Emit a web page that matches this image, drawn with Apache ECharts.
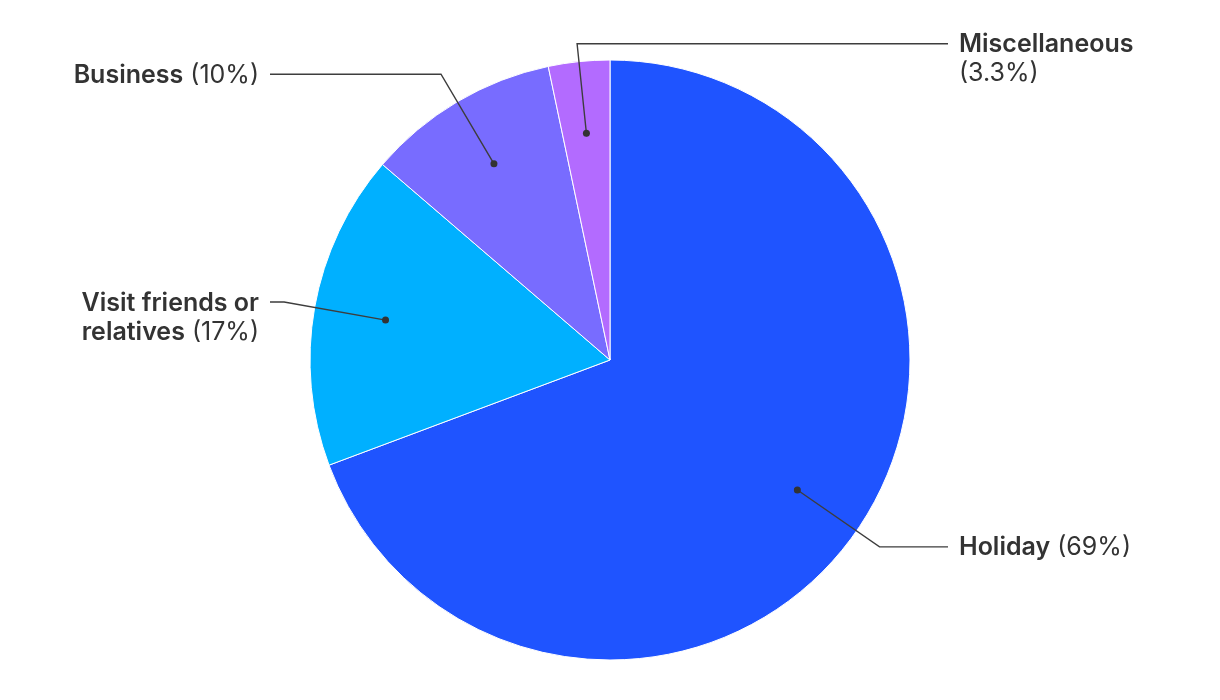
<!DOCTYPE html>
<html>
<head>
<meta charset="utf-8">
<script src="https://cdn.jsdelivr.net/npm/echarts@6/dist/echarts.min.js"></script>
<style>
html,body{margin:0;padding:0;background:#fff;}
#chart{width:1220px;height:700px;}
</style>
</head>
<body>
<div id="chart"></div>
<script>
// Data
var categories = ['Holiday', 'Visit friends or relatives', 'Business', 'Miscellaneous'];
var labelNames = ['Holiday', 'Visit friends or\nrelatives', 'Business', 'Miscellaneous\n'];
var values = [69.3, 17.0, 10.4, 3.3];
var valueLabels = ['(69%)', '(17%)', '(10%)', '(3.3%)'];
var colors = ['#1f54ff', '#00b0ff', '#786cff', '#b36bff'];
var labelSides = ['right', 'left', 'left', 'right'];
var lineLengths = [103, 106, 107, 93];

var LEFT_END = 270, RIGHT_END = 948, GAP = 11, LINE_H = 29, FONT_SIZE = 25;

function labelText(i) {
  var lines = labelNames[i].split('\n');
  var out = [];
  for (var k = 0; k < lines.length; k++) {
    var isLast = k === lines.length - 1;
    var s = lines[k] ? '{n|' + lines[k] + '}' : '';
    if (isLast) s += '{v|' + (s ? ' ' : '') + valueLabels[i] + '}';
    out.push(s);
  }
  return out.join('\n');
}

var mainData = categories.map(function (c, i) {
  return { name: c, value: values[i], itemStyle: { color: colors[i] } };
});
var labelData = categories.map(function (c, i) {
  return {
    name: c, value: values[i],
    label: { formatter: labelText(i) },
    labelLine: { length: lineLengths[i], length2: 10 }
  };
});
var dotData = categories.map(function (c, i) {
  return { name: c, value: values[i] };
});

var chart = echarts.init(document.getElementById('chart'), null, { renderer: 'canvas' });
chart.setOption({
  animation: false,
  backgroundColor: '#ffffff',
  series: [
    {
      type: 'pie',
      z: 1,
      center: [610, 360],
      radius: [0, 300],
      startAngle: 90,
      clockwise: true,
      silent: true,
      label: { show: false },
      labelLine: { show: false },
      itemStyle: { borderColor: '#ffffff', borderWidth: 1 },
      data: mainData
    },
    {
      type: 'pie',
      z: 5,
      center: [610, 360],
      radius: [0, 225],
      startAngle: 90,
      clockwise: true,
      silent: true,
      avoidLabelOverlap: false,
      itemStyle: { color: 'rgba(0,0,0,0)' },
      label: {
        show: true,
        position: 'outside',
        fontFamily: 'Inter',
        fontSize: FONT_SIZE,
        color: '#333333',
        lineHeight: LINE_H,
        rich: {
          n: { fontFamily: 'Inter', fontSize: FONT_SIZE, fontWeight: 600, color: '#333333', lineHeight: LINE_H },
          v: { fontFamily: 'Inter', fontSize: FONT_SIZE, fontWeight: 400, color: '#333333', lineHeight: LINE_H }
        }
      },
      labelLine: {
        show: true,
        smooth: false,
        lineStyle: { color: '#3d3d3d', width: 1.4 }
      },
      labelLayout: function (p) {
        var pts = p.labelLinePoints;
        if (!pts) return {};
        var side = labelSides[p.dataIndex];
        var endX = side === 'left' ? LEFT_END : RIGHT_END;
        var y = pts[1][1];
        return {
          x: side === 'left' ? endX - GAP : endX + GAP,
          y: y - LINE_H / 2 + 1,
          align: side === 'left' ? 'right' : 'left',
          verticalAlign: 'top',
          hideOverlap: false,
          moveOverlap: null,
          labelLinePoints: [pts[0], pts[1], [endX, y]]
        };
      },
      data: labelData
    },
    {
      type: 'pie',
      z: 6,
      center: [610, 360],
      radius: [0, 450],
      startAngle: 90,
      clockwise: true,
      silent: true,
      avoidLabelOverlap: false,
      itemStyle: { color: 'rgba(0,0,0,0)' },
      label: {
        show: true,
        position: 'inside',
        formatter: '{d|}',
        rich: {
          d: { width: 7, height: 7, borderRadius: 3.5, backgroundColor: '#333333' }
        }
      },
      labelLine: { show: false },
      data: dotData
    }
  ]
});
</script>
</body>
</html>
